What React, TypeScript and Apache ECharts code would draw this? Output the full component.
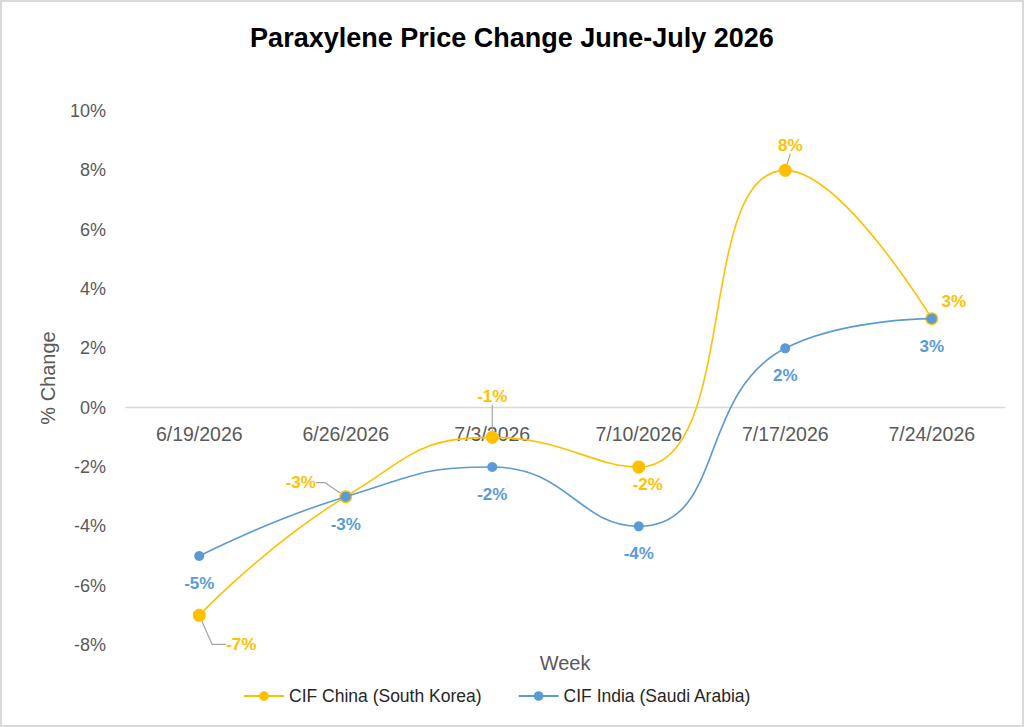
import { useEffect, useRef } from "react";
import * as echarts from "echarts";

// Weekly paraxylene price change, in percent
const weeks = ["6/19/2026", "6/26/2026", "7/3/2026", "7/10/2026", "7/17/2026", "7/24/2026"];
const chinaChange = [-7, -3, -1, -2, 8, 3];
const indiaChange = [-5, -3, -2, -4, 2, 3];
const seriesNames = ["CIF China (South Korea)", "CIF India (Saudi Arabia)"];

// value axis range
const Y_MIN = -8;
const Y_MAX = 10;
const Y_STEP = 2;

const YELLOW = "#FFC000";
const BLUE = "#5B9BD5";
const FONT = "'Liberation Sans', Arial, sans-serif";

const GRID = { left: 126, right: 19, top: 111, bottom: 82 };
const HEIGHT = 727;

// label offsets (from the marker centre) for the China series, which ones get a leader line,
// and the length of the leader's last (label-side) segment
const chinaLabelShift: [number, number][] = [
  [42, 29],
  [-45, -14],
  [0, -41],
  [9, 17],
  [5, -25],
  [22, -17],
];
const chinaLeader = [true, true, true, false, true, false];
const chinaLeaderTail = [14, 9, 0, 0, 0, 0];

export default function App() {
  const ref = useRef<HTMLDivElement>(null);

  useEffect(() => {
    if (!ref.current) return;
    const chart = echarts.init(ref.current, null, { renderer: "svg" });

    // lift the category axis (line and labels) from the grid bottom up to the 0% level
    const plotH = HEIGHT - GRID.top - GRID.bottom;
    const zeroLift = (plotH * (0 - Y_MIN)) / (Y_MAX - Y_MIN);

    chart.setOption({
      animation: false,
      backgroundColor: "#ffffff",
      title: {
        text: "Paraxylene Price Change June-July 2026",
        left: "center",
        top: 19,
        textStyle: {
          fontFamily: FONT,
          fontSize: 27,
          fontWeight: "bold",
          color: "#000000",
        },
      },
      grid: { ...GRID, containLabel: false },
      legend: {
        left: 238,
        top: 682,
        itemWidth: 40,
        itemHeight: 12,
        itemGap: 36,
        textStyle: { fontFamily: FONT, fontSize: 17.5, color: "#262626" },
        data: seriesNames,
      },
      graphic: [
        {
          type: "text",
          x: 565,
          y: 663,
          style: {
            text: "Week",
            fontFamily: FONT,
            fontSize: 20,
            fill: "#595959",
            textAlign: "center",
            textVerticalAlign: "middle",
          },
        },
      ],
      xAxis: {
        type: "category",
        data: weeks,
        boundaryGap: true,
        offset: -zeroLift,
        axisLine: { onZero: false, lineStyle: { color: "#d9d9d9", width: 1.3 } },
        axisTick: { show: false },
        axisLabel: { color: "#595959", fontSize: 19.5, fontFamily: FONT, margin: 16 },
        splitLine: { show: false },
      },
      yAxis: {
        type: "value",
        min: Y_MIN,
        max: Y_MAX,
        interval: Y_STEP,
        name: "% Change",
        nameLocation: "middle",
        nameGap: 68,
        nameTextStyle: { color: "#595959", fontSize: 20, fontFamily: FONT },
        axisLine: { show: false },
        axisTick: { show: false },
        splitLine: { show: false },
        axisLabel: {
          formatter: "{value}%",
          color: "#595959",
          fontSize: 18,
          fontFamily: FONT,
          margin: 20,
        },
      },
      series: [
        {
          name: seriesNames[0],
          type: "line",
          smooth: 0.5,
          symbol: "circle",
          symbolSize: 13,
          itemStyle: { color: YELLOW },
          lineStyle: { color: YELLOW, width: 1.6 },
          label: {
            show: true,
            position: "inside",
            formatter: "{c}%",
            color: YELLOW,
            fontSize: 17,
            fontWeight: "bold",
            fontFamily: FONT,
          },
          labelLine: { show: true, lineStyle: { color: "#a6a6a6", width: 1.2 } },
          labelLayout: (p: any) => {
            const s = chinaLabelShift[p.dataIndex];
            return { dx: s[0], dy: s[1] };
          },
          data: chinaChange.map((v, i) => ({
            value: v,
            labelLine: { show: chinaLeader[i], length2: chinaLeaderTail[i] },
          })),
          z: 2,
        },
        {
          name: seriesNames[1],
          type: "line",
          smooth: 0.5,
          symbol: "circle",
          symbolSize: 10,
          itemStyle: { color: BLUE },
          lineStyle: { color: BLUE, width: 1.6 },
          label: {
            show: true,
            position: "bottom",
            distance: 14,
            formatter: "{c}%",
            color: BLUE,
            fontSize: 17,
            fontWeight: "bold",
            fontFamily: FONT,
          },
          data: indiaChange,
          z: 3,
        },
      ],
    });

    return () => chart.dispose();
  }, []);

  return (
    <div style={{ position: "fixed", left: 0, top: 0, width: 1024, height: HEIGHT }}>
      <div ref={ref} style={{ position: "absolute", left: 0, top: 0, width: 1024, height: HEIGHT }} />
      <div
        style={{
          position: "absolute",
          left: 0,
          top: 0,
          width: 1024,
          height: HEIGHT,
          boxSizing: "border-box",
          border: "2px solid #d9d9d9",
          pointerEvents: "none",
        }}
      />
    </div>
  );
}
